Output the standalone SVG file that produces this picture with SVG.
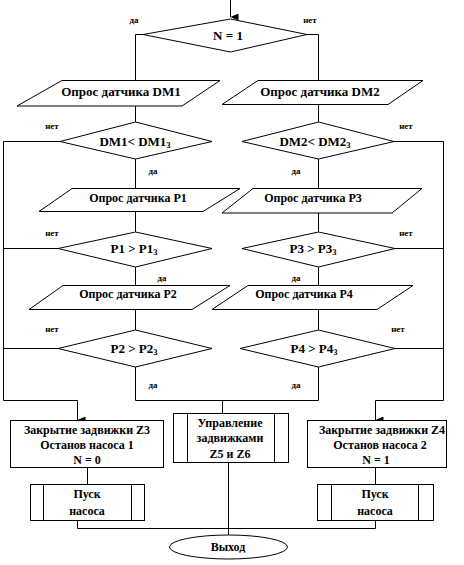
<svg xmlns="http://www.w3.org/2000/svg" width="464" height="565" viewBox="0 0 464 565">
<defs>
<marker id="arr" markerWidth="7" markerHeight="8" refX="3.5" refY="8" orient="auto-start-reverse" markerUnits="userSpaceOnUse" viewBox="0 0 7 8">
<path d="M0,0 L7,0 L3.5,8 Z" fill="#000"/>
</marker>
<style>
.s{fill:#fff;stroke:#000;stroke-width:1}
.c{fill:none;stroke:#000;stroke-width:1}
text{font-family:"Liberation Serif","Times New Roman",serif;font-weight:bold;fill:#000;text-anchor:middle}
.t{font-size:12px}
.d{font-size:13px}
.l{font-size:9px}
.sub{font-size:8.5px}
</style>
</defs>
<rect width="464" height="565" fill="#fff"/>

<g id="connectors">
<path class="c" d="M230.5,0 V17" marker-end="url(#arr)"/>
<path class="c" d="M143,34.5 H135.5 V80"/>
<path class="c" d="M307,34.5 H318.5 V80"/>
<path class="c" d="M135.5,106 V122"/>
<path class="c" d="M318.5,104 V122"/>
<path class="c" d="M135.5,159 V188"/>
<path class="c" d="M318.5,159 V188"/>
<path class="c" d="M135.5,211 V232"/>
<path class="c" d="M318.5,213 V232"/>
<path class="c" d="M135.5,267 V285"/>
<path class="c" d="M318.5,267 V285"/>
<path class="c" d="M135.5,309 V330"/>
<path class="c" d="M318.5,309 V330"/>
<path class="c" d="M135.5,367 V400.5 H318.5 V367"/>
<path class="c" d="M222.5,400.5 V413"/>
<path class="c" d="M60,141.5 H3.5 V400.5 H77.5 V420" marker-end="url(#arr)"/>
<path class="c" d="M58,248.5 H3.5"/>
<path class="c" d="M58,348.5 H3.5"/>
<path class="c" d="M394,141.5 H443.5 V400.5 H375.5 V420" marker-end="url(#arr)"/>
<path class="c" d="M395,248.5 H443.5"/>
<path class="c" d="M395,348.5 H443.5"/>
<path class="c" d="M87.5,468 V484"/>
<path class="c" d="M375.5,467 V484"/>
<path class="c" d="M77.5,520 V528.5 H375.5 V520"/>
<path class="c" d="M228.5,462 V535"/>
</g>

<g id="labels">
<text class="l" x="134" y="23">да</text>
<text class="l" x="310" y="23">нет</text>
<text class="l" x="52" y="129">нет</text>
<text class="l" x="406" y="129">нет</text>
<text class="l" x="153" y="174">да</text>
<text class="l" x="296" y="174">да</text>
<text class="l" x="52" y="236">нет</text>
<text class="l" x="406" y="236">нет</text>
<text class="l" x="162" y="281">да</text>
<text class="l" x="296" y="281">да</text>
<text class="l" x="52" y="332">нет</text>
<text class="l" x="398" y="332">нет</text>
<text class="l" x="153" y="388">да</text>
<text class="l" x="296" y="388">да</text>
</g>

<g id="n1">
<polygon class="s" points="230.5,19 307,34.5 230.5,52 143,34.5"/>
<text class="d" x="228" y="40">N = 1</text>
</g>

<g id="dm1-read">
<polygon class="s" points="62,80.5 220,80.5 182,106 17,106"/>
<text class="d" x="121" y="96">Опрос датчика DM1</text>
</g>
<g id="dm2-read">
<polygon class="s" points="258,80.5 423,80.5 388,104.5 222,104.5"/>
<text class="d" x="320" y="96">Опрос датчика DM2</text>
</g>

<g id="dm1-check">
<polygon class="s" points="135.5,122 212,141.5 135.5,159 60,141.5"/>
<text class="d" x="135" y="146">DM1&lt; DM1<tspan class="sub" dy="2">3</tspan></text>
</g>
<g id="dm2-check">
<polygon class="s" points="318.5,122 394,141.5 318.5,159 242,141.5"/>
<text class="d" x="315" y="146">DM2&lt; DM2<tspan class="sub" dy="2">3</tspan></text>
</g>

<g id="p1-read">
<polygon class="s" points="72,188.5 240,188.5 203,211.5 39,211.5"/>
<text class="t" x="138" y="202">Опрос датчика P1</text>
</g>
<g id="p3-read">
<polygon class="s" points="253,188.5 422,188.5 392,213 222,213"/>
<text class="t" x="313" y="202">Опрос датчика P3</text>
</g>

<g id="p1-check">
<polygon class="s" points="135.5,232 212,248.5 135.5,267 58,248.5"/>
<text class="d" x="134" y="253">P1 &gt; P1<tspan class="sub" dy="2">3</tspan></text>
</g>
<g id="p3-check">
<polygon class="s" points="318.5,232 395,248.5 318.5,267 242,248.5"/>
<text class="d" x="313" y="253">P3 &gt; P3<tspan class="sub" dy="2">3</tspan></text>
</g>

<g id="p2-read">
<polygon class="s" points="63,285.5 230,285.5 192,309.5 29,309.5"/>
<text class="t" x="128" y="298">Опрос датчика P2</text>
</g>
<g id="p4-read">
<polygon class="s" points="248,285.5 413,285.5 377,309.5 212,309.5"/>
<text class="t" x="304" y="298">Опрос датчика P4</text>
</g>

<g id="p2-check">
<polygon class="s" points="135.5,330 212,348.5 135.5,367 58,348.5"/>
<text class="d" x="134" y="353">P2 &gt; P2<tspan class="sub" dy="2">3</tspan></text>
</g>
<g id="p4-check">
<polygon class="s" points="318.5,330 395,348.5 318.5,367 240,348.5"/>
<text class="d" x="314" y="353">P4 &gt; P4<tspan class="sub" dy="2">3</tspan></text>
</g>

<g id="close-z3">
<rect class="s" x="10.5" y="420.5" width="153" height="47"/>
<text class="t" x="87" y="434">Закрытие задвижки Z3</text>
<text class="t" x="87" y="449">Останов насоса 1</text>
<text class="t" x="87" y="464">N = 0</text>
</g>

<g id="control-z5z6">
<rect class="s" x="173.5" y="413.5" width="115" height="49"/>
<path class="c" d="M187.5,413.5 V462.5 M274.5,413.5 V462.5"/>
<text class="t" x="230" y="427">Управление</text>
<text class="t" x="230" y="442">задвижками</text>
<text class="t" x="230" y="458">Z5 и Z6</text>
</g>

<g id="close-z4">
<rect class="s" x="307.5" y="420.5" width="139" height="47"/>
<text class="t" x="382" y="434">Закрытие задвижки Z4</text>
<text class="t" x="380" y="449">Останов насоса 2</text>
<text class="t" x="376" y="464">N = 1</text>
</g>

<g id="start-pump1">
<rect class="s" x="30.5" y="484.5" width="114" height="36"/>
<path class="c" d="M43.5,484.5 V520.5 M131.5,484.5 V520.5"/>
<text class="t" x="87" y="498">Пуск</text>
<text class="t" x="87" y="515">насоса</text>
</g>

<g id="start-pump2">
<rect class="s" x="317.5" y="484.5" width="116" height="36"/>
<path class="c" d="M331.5,484.5 V520.5 M418.5,484.5 V520.5"/>
<text class="t" x="375" y="498">Пуск</text>
<text class="t" x="375" y="515">насоса</text>
</g>

<g id="exit">
<ellipse class="s" cx="228.5" cy="547" rx="59" ry="12"/>
<text class="t" x="228" y="551">Выход</text>
</g>
</svg>
